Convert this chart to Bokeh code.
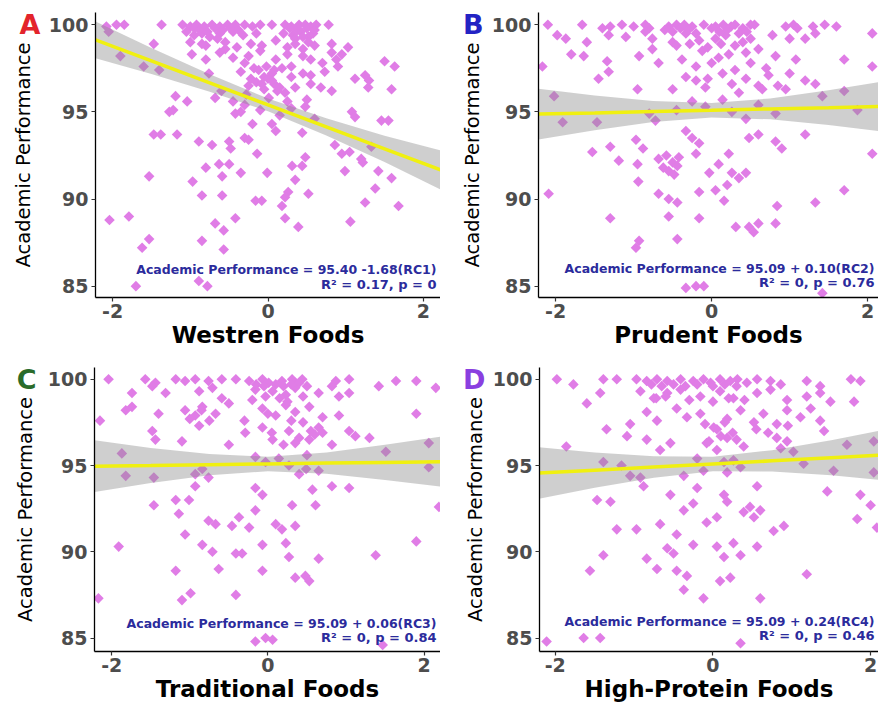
from bokeh.plotting import figure
from bokeh.models import Range1d, FixedTicker, Label, LinearAxis
from bokeh.layouts import row, column
from bokeh.embed import file_html
from bokeh.resources import INLINE

# ---------------- data ----------------
# Panel A: Westren Foods
a_x = [
    -2.08, -1.95, -1.85, -1.37, -1.10, -1.00, -0.92, -0.82, -0.72, -0.62, -0.52, -0.42, -0.30, -0.20, -0.10, 0.05, 0.22, 0.30, 0.40, 0.48, 0.55, 0.62, 0.78,
    -2.05, -1.05, -0.95, -0.85, -0.75, -0.62, -0.45, -0.32, -0.15, 0.20, 0.32, 0.42, 0.52, 0.58,
    -1.47, -1.00, -0.80, -0.55, -0.40, -0.22, -0.08, 0.10, 0.35, 0.45, 0.52, 0.82, 1.03,
    -1.90, -0.98, -0.80, -0.62, -0.45, -0.25, 0.10, 0.25, 0.45, 0.55, 0.82, 0.88, 0.95, 1.50, 1.63,
    -1.60, -1.40, -0.76, -0.35, -0.18, -0.05, 0.05, 0.30, 0.45, 0.55, 0.73, 1.12, 1.25, 1.30,
    -0.25, -0.15, -0.05, 0.08, 0.12, 0.35, 0.55, 0.68, 0.82, 1.29, 1.59, -0.28, 0.00,
    -1.19, -1.04, -0.68, -0.45, -0.30, 0.01, 0.25, 0.50, -0.60,
    -1.27, -1.22, -0.42, -0.35, -0.10, 0.30, 0.48, 1.08, 1.12, 0.15,
    -0.20, 0.05, 0.60, 1.46, 1.55, 0.10,
    -1.47, -1.38, -1.17, 0.44, -0.30,
    -0.89, -0.72, -0.50, -0.48, -0.25, 0.86, 1.05, 1.33,
    -0.14, 1.20, 0.48, 0.95, 1.22,
    -0.80, -0.63, -0.50, 0.31, 0.44,
    -1.53, -0.59, -0.35, -0.01, 0.99, 1.42, 1.59, -0.97, 0.35,
    0.26, 0.52, 1.38, -0.85, -0.59, -0.16, -0.08, 0.18, 1.25, 1.68, 0.22,
    -2.04, -1.79, -0.42, 0.22, 0.39, 1.06, -0.68, -0.57,
    -1.53, -1.62, -0.85, -0.57,
    -1.70, -0.89, -0.78,
    -0.95, -0.88, -0.78, -0.68, -0.58, -0.48, -0.38, -0.65, -0.55, -0.85,
    0.28, 0.38, 0.50, 0.60, 0.35, 0.45, 0.25, -0.12, -0.02, 0.08, 0.18,
    -0.22, -0.08, 0.05, 0.15, 0.22, -0.30, -0.10, 0.30, 0.70, 0.90, 0.60,
]
a_y = [
    99.9, 100.0, 100.0, 100.0, 100.0, 99.9, 100.0, 99.9, 100.0, 99.9, 100.0, 100.0, 100.0, 99.9, 100.0, 100.0, 100.0, 99.9, 100.0, 100.0, 99.9, 100.0, 100.0,
    99.6, 99.6, 99.4, 99.5, 99.3, 99.5, 99.6, 99.4, 99.5, 99.5, 99.4, 99.6, 99.3, 99.5,
    98.9, 99.0, 98.8, 99.0, 98.7, 98.9, 98.8, 99.1, 98.9, 98.6, 99.0, 98.9, 98.7,
    98.2, 98.3, 98.0, 98.4, 98.1, 98.2, 98.0, 98.3, 98.2, 98.0, 98.4, 98.0, 98.3, 97.9, 97.6,
    97.6, 97.4, 97.2, 97.3, 97.5, 97.0, 97.2, 97.0, 97.2, 97.1, 97.3, 96.9, 97.1, 96.8,
    96.5, 96.7, 96.3, 96.6, 96.2, 96.4, 96.6, 96.4, 96.2, 96.4, 96.3, 96.0, 96.9,
    95.9, 95.6, 95.8, 95.6, 95.4, 95.8, 95.6, 95.7, 96.2,
    95.0, 95.1, 94.9, 95.0, 95.1, 95.2, 95.3, 95.0, 94.7, 94.8,
    94.3, 94.3, 94.6, 94.5, 94.5, 93.9,
    93.7, 93.7, 93.7, 93.8, 93.5,
    93.3, 93.1, 93.3, 92.9, 93.4, 93.1, 92.7, 93.0,
    92.6, 92.3, 92.4, 92.6, 92.1,
    91.8, 92.0, 92.0, 91.9, 91.9,
    91.3, 91.3, 91.5, 91.5, 91.6, 91.6, 91.2, 91.0, 91.1,
    90.4, 90.3, 90.6, 90.2, 90.2, 89.9, 89.9, 89.6, 89.8, 89.6, 90.1,
    88.8, 89.0, 88.9, 88.9, 88.4, 88.7, 88.6, 88.2,
    87.7, 87.2, 87.6, 87.1,
    85.0, 85.3, 85.0,
    99.8, 99.7, 99.6, 99.8, 99.7, 99.8, 99.7, 99.2, 98.6, 98.9,
    99.8, 99.7, 99.8, 99.7, 99.2, 99.3, 98.7, 97.4, 97.6, 97.4, 97.5,
    96.9, 96.6, 96.8, 96.4, 96.1, 97.8, 98.5, 97.6, 97.8, 97.6, 98.8,
]

# Panel B: Prudent Foods
b_x = [
    -2.10, -1.66, -1.40, -1.30, -1.15, -1.00, -0.85, -0.80, -0.55, -0.45, -0.40, -0.35, -0.25, -0.10, 0.00, 0.05, 0.15, 0.25, 0.30, 0.40, 0.50, 0.55, 0.95, 1.05, 1.10, 1.30, 1.45, 1.60, 2.06,
    -1.98, -1.87, -1.60, -1.32, -1.10, -0.76, -0.50, -0.33, -0.16, 0.05, 0.18, 0.40, 0.78, 1.00, 1.20, 1.33,
    -2.17, -1.80, -1.64, -1.34, -0.93, -0.76, -0.68, -0.38, -0.12, 0.09, 0.22, 0.44, 0.82, 1.08, 1.70, 2.06,
    -1.45, -1.32, -0.95, -0.50, -0.33, -0.20, -0.08, 0.14, 0.26, 0.44, 0.60, 0.73, 0.95, 1.20, 1.33, 1.70,
    -2.02, -1.91, -1.47, -0.80, -0.72, -0.45, -0.25, -0.08, 0.14, 0.26, 0.44, 0.60, 0.82, 1.42, 1.87,
    -1.53, -1.30, -0.97, -0.88, -0.33, -0.25, -0.16, 0.48, 0.60, 0.82, 0.90, 1.20, 2.06,
    -1.19, -0.95, -0.68, -0.62, -0.58, -0.55, -0.50, -0.48, -0.44, -0.42, -0.20, -0.03, 0.09, 0.22, 0.26, 0.35, 0.44,
    -2.09, -0.94, -0.68, -0.55, -0.44, -0.16, 0.05, 0.16, 0.20, 0.84, 1.33, 1.70,
    -1.30, -0.55, -0.16, 0.31, 0.48, 0.54, 0.60, 0.82,
    -0.93, -0.97, -0.44,
    -0.33, -0.20, -0.10, 1.42,
    -0.60, -0.50, -0.30, -0.20, 0.10, 0.20, 0.35, 0.45, -0.45, -0.28, -0.05, 0.12, 0.30,
    0.50, 0.60, -0.20, 0.00, 0.30, 0.50, 0.70, 0.65, 0.85, 1.00, -0.85, -0.05, 0.35,
]
b_y = [
    100.0, 100.0, 99.8, 99.9, 100.0, 99.9, 100.0, 99.8, 99.9, 100.0, 99.8, 100.0, 99.9, 100.0, 99.8, 99.9, 100.0, 99.9, 100.0, 99.8, 100.0, 100.0, 99.9, 100.0, 99.8, 99.9, 100.0, 99.9, 99.5,
    99.4, 99.2, 99.0, 99.4, 99.3, 99.2, 99.0, 99.5, 99.1, 99.2, 99.4, 99.0, 99.4, 99.2, 99.2, 99.5,
    97.6, 98.3, 98.2, 97.9, 98.2, 98.6, 97.8, 98.0, 98.5, 98.1, 98.3, 98.4, 98.2, 98.0, 98.0, 97.6,
    96.9, 97.3, 96.3, 96.3, 97.0, 96.8, 96.4, 97.2, 96.6, 96.9, 96.5, 97.1, 96.3, 96.8, 96.6, 96.2,
    95.9, 94.4, 94.4, 94.9, 94.5, 95.1, 95.6, 95.3, 95.7, 95.0, 94.6, 95.4, 94.9, 95.9, 95.1,
    92.7, 93.0, 93.4, 92.9, 93.9, 93.5, 93.2, 93.5, 93.7, 93.3, 92.9, 93.7, 92.6,
    92.2, 92.0, 92.3, 91.8, 92.5, 91.6, 92.1, 91.4, 91.9, 92.4, 92.6, 91.5, 92.0, 92.6, 91.5, 91.2, 91.5,
    90.3, 91.0, 90.3, 90.0, 89.8, 90.4, 90.5, 89.9, 90.8, 89.6, 89.8, 90.5,
    88.9, 89.0, 88.9, 88.4, 88.4, 88.1, 88.6, 88.6,
    87.6, 87.2, 87.7,
    84.9, 85.0, 85.0, 84.6,
    99.7, 99.6, 99.7, 99.5, 99.6, 99.7, 99.5, 99.6, 98.8, 98.9, 98.7, 98.9, 98.8,
    99.2, 98.6, 97.6, 97.8, 97.4, 97.8, 97.5, 96.3, 96.5, 97.2, 99.6, 96.9, 96.1,
]

# Panel C: Traditional Foods
c_x = [
    -2.04, -1.57, -1.44, -1.18, -1.06, -0.93, -0.76, -0.59, -0.41, -0.24, -0.07, 0.01, 0.18, 0.31, 0.35, 0.44, 0.87, 1.04, 1.42, 1.64, 1.90, 2.15,
    -1.74, -1.48, -1.31, -0.88, -0.71, -0.59, -0.16, -0.03, 0.06, 0.23, 0.35, 0.65, 0.82, 0.91, 1.04,
    -2.15, -1.82, -1.74, -1.40, -1.06, -0.93, -0.84, -0.67, -0.50, -0.07, 0.10, 0.23, 0.35, 0.53, 0.70, 0.91, 1.90,
    -1.48, -1.44, -1.10, -0.88, -0.50, -0.29, -0.07, 0.06, 0.27, 0.40, 0.53, 0.65, 0.82, 1.04, 1.12, 1.30, 1.51, 2.06,
    -1.87, -1.82, -1.46, -0.93, -0.84, -0.76, -0.16, -0.03, 0.14, 0.27, 0.40, 0.49, 0.65, 2.06,
    -1.46, -1.18, -1.01, -0.93, -0.16, -0.07, 0.31, 0.57, 0.61, 0.82, 1.04, 2.19,
    -1.14, -1.06, -0.76, -0.67, -0.46, -0.37, -0.24, -0.16, 0.10, 0.18, 0.35,
    -1.91, -0.84, -0.71, -0.41, -0.33, -0.07, 0.23, 0.27, 0.65, 1.38, 1.90,
    -1.18, -0.63, -0.07, 0.35, 0.48, 0.53,
    -2.17, -1.10, -0.99, -0.41,
    -0.16, -0.03, 0.06, 1.47,
    -0.15, -0.05, 0.10, 0.20, 0.30, 0.40, 0.50, 0.15, 0.25, 0.45, 0.00, 0.30, 0.55,
    0.60, -0.30, -0.20, 0.05, 0.35, 0.45, 0.70, -0.85, -0.75, -1.00, 0.20, 0.50,
]
c_y = [
    100.0, 100.0, 99.8, 100.0, 99.9, 100.0, 99.9, 100.0, 100.0, 99.9, 100.0, 99.8, 99.9, 100.0, 99.8, 100.0, 99.9, 100.0, 99.6, 99.9, 99.9, 99.5,
    99.2, 99.6, 99.2, 99.3, 99.5, 98.9, 99.4, 99.0, 99.3, 99.1, 99.5, 99.2, 99.6, 99.0, 99.2,
    97.6, 98.2, 98.4, 98.0, 98.2, 97.9, 98.4, 98.0, 98.6, 98.3, 97.9, 98.5, 98.1, 98.4, 97.8, 97.9, 98.0,
    97.0, 96.5, 96.4, 97.3, 96.2, 96.9, 97.2, 96.5, 97.0, 96.6, 96.5, 97.2, 96.2, 97.0, 96.7, 96.6, 95.8, 96.3,
    95.7, 94.4, 94.3, 94.5, 94.8, 94.3, 95.5, 95.2, 95.4, 95.0, 94.5, 94.8, 94.7, 94.9,
    92.7, 93.0, 93.0, 93.8, 93.7, 93.3, 92.7, 93.6, 92.7, 93.8, 93.7, 92.6,
    92.2, 91.0, 91.8, 91.6, 91.5, 92.0, 91.4, 92.4, 91.6, 91.3, 91.5,
    90.3, 90.4, 90.0, 89.9, 89.9, 90.4, 90.5, 89.7, 89.6, 89.8, 90.6,
    88.9, 89.0, 88.9, 88.5, 88.6, 88.3,
    87.3, 87.2, 87.6, 87.5,
    84.8, 85.0, 84.9, 84.6,
    99.7, 99.6, 99.7, 99.6, 99.7, 99.8, 99.6, 98.9, 98.7, 99.0, 98.0, 97.6, 97.0,
    96.8, 97.6, 98.8, 96.9, 96.3, 97.5, 96.9, 98.2, 97.6, 97.7, 96.2, 95.6,
]

# Panel D: High-Protein Foods
d_x = [
    -1.98, -1.77, -1.39, -1.22, -0.97, -0.84, -0.71, -0.58, -0.41, -0.25, -0.12, -0.03, 0.09, 0.22, 0.31, 0.43, 0.56, 0.73, 0.86, 1.19, 1.36, 1.75, 1.87,
    -1.60, -1.43, -0.92, -0.75, -0.58, -0.41, -0.16, 0.09, 0.26, 0.56, 0.73, 0.94, 1.19, 1.36, 1.49, 1.79,
    -1.35, -1.05, -0.84, -0.71, -0.46, -0.33, -0.16, 0.01, 0.18, 0.35, 0.52, 0.64, 0.81, 0.94, 1.11, 1.24, 1.36, 1.41,
    -1.86, -1.09, -0.84, -0.67, -0.54, -0.08, 0.05, 0.18, 0.39, 0.81, 0.86, 0.94, 1.02, 1.70, 2.04,
    -1.39, -1.16, -1.05, -0.92, -0.37, -0.20, -0.12, 0.14, 0.18, 0.26, 0.35, 1.15, 1.53, 2.04,
    -1.47, -1.30, -0.88, -0.54, -0.20, 0.14, 0.18, 0.56, 0.47, 1.45, 1.87, 2.00, -0.25, -0.37,
    -1.22, -0.97, -0.67, -0.46, -0.08, 0.05, 0.39, 0.52, 0.60, 0.77, 0.90, 1.83, 2.08,
    -1.39, -0.84, -0.58, -0.50, -0.25, 0.05, 0.14, 0.26, 0.35, 0.56,
    -1.56, -0.71, -0.46, -0.33, 0.09, 0.22, 1.19,
    -0.37, -0.12, 0.60,
    -2.11, -1.64, -1.43, 0.35,
    -0.78, -0.65, -0.50, -0.35, -0.20, 0.00, 0.15, 0.30, -0.72, -0.60, -0.30, 0.00,
    0.20, 0.40, -0.10, 0.05, 0.15, 0.25, -0.05, 0.10, 0.30, 0.55, 0.70, 0.95,
]
d_y = [
    100.0, 99.7, 100.0, 100.0, 100.0, 99.9, 100.0, 99.9, 100.0, 99.9, 100.0, 99.8, 100.0, 99.9, 100.0, 99.8, 100.0, 99.9, 99.7, 99.9, 99.6, 100.0, 99.9,
    98.6, 99.2, 99.3, 98.9, 99.2, 99.4, 99.0, 99.3, 98.9, 99.2, 99.4, 98.8, 99.0, 99.2, 98.7, 98.7,
    97.1, 97.4, 98.1, 97.6, 98.3, 97.8, 98.0, 97.2, 97.7, 98.2, 97.5, 98.0, 97.4, 98.2, 97.8, 98.3, 97.6, 97.0,
    96.1, 96.7, 96.5, 95.9, 96.3, 96.3, 95.9, 96.6, 96.1, 96.6, 96.0, 96.4, 95.8, 96.2, 96.4,
    95.2, 95.0, 94.4, 94.3, 94.4, 95.4, 94.7, 95.2, 94.6, 95.3, 94.9, 95.1, 94.7, 94.6,
    93.0, 92.9, 93.8, 93.3, 93.7, 93.3, 92.9, 93.8, 92.6, 93.5, 93.3, 92.7, 92.8, 92.4,
    91.3, 91.3, 91.6, 91.0, 91.7, 92.0, 92.3, 92.0, 92.4, 91.2, 91.5, 91.9, 91.4,
    89.8, 89.6, 90.2, 89.9, 90.4, 90.3, 89.7, 90.5, 89.8, 90.3,
    88.9, 89.0, 88.9, 88.6, 88.3, 88.5, 88.7,
    87.8, 87.3, 87.3,
    84.8, 85.0, 85.0, 84.7,
    99.7, 99.6, 99.7, 99.6, 99.7, 99.6, 99.7, 99.6, 98.9, 99.0, 98.8, 98.7,
    98.9, 98.8, 97.4, 97.1, 97.5, 96.9, 96.4, 96.7, 96.5, 97.1, 96.9, 97.3,
]

# Regression lines and confidence bands (read at these x positions)
band_x = [-2.22, -1.5, -0.75, 0.0, 0.75, 1.5, 2.22]
a_fit = [99.13, 97.92, 96.66, 95.40, 94.14, 92.88, 91.67]
a_lo = [98.08, 97.17, 96.16, 95.04, 93.64, 92.13, 90.55]
a_hi = [100.18, 98.67, 97.16, 95.76, 94.64, 93.63, 92.79]
b_fit = [94.87, 94.94, 95.02, 95.09, 95.17, 95.24, 95.31]
b_lo = [93.42, 93.94, 94.42, 94.67, 94.57, 94.24, 93.86]
b_hi = [96.32, 95.94, 95.62, 95.51, 95.77, 96.24, 96.76]
c_fit = [94.96, 95.00, 95.05, 95.09, 95.14, 95.18, 95.22]
c_lo = [93.46, 93.98, 94.43, 94.67, 94.52, 94.16, 93.77]
c_hi = [96.46, 96.02, 95.67, 95.51, 95.76, 96.20, 96.67]
d_fit = [94.56, 94.73, 94.91, 95.09, 95.27, 95.45, 95.62]
d_lo = [93.06, 93.71, 94.29, 94.67, 94.65, 94.43, 94.12]
d_hi = [96.06, 95.75, 95.53, 95.51, 95.89, 96.47, 97.12]

x_labels = ["Westren Foods", "Prudent Foods", "Traditional Foods", "High-Protein Foods"]
y_label = "Academic Performance"
panel_letters = ["A", "B", "C", "D"]
equations = [
    "Academic Performance = 95.40 -1.68(RC1)",
    "Academic Performance = 95.09 + 0.10(RC2)",
    "Academic Performance = 95.09 + 0.06(RC3)",
    "Academic Performance = 95.09 + 0.24(RC4)",
]
stats = ["R² = 0.17, p = 0", "R² = 0, p = 0.76", "R² = 0, p = 0.84", "R² = 0, p = 0.46"]
x_ticks = [-2, 0, 2]
y_ticks = [85, 90, 95, 100]
letter_tick = [100]

# ---------------- styling ----------------
FONT = "DejaVu Sans"
POINT = "#e07de6"
LETTER_COLORS = ["#e3242b", "#2323c4", "#2a6b2a", "#8a3fe0"]
EQ_COLOR = "#2b2b9c"


def panel(xs, ys, fit, lo, hi, xr, yr, idx, w, h, bl, bt, bb, letter_standoff, ylab_standoff, eq_y):
    p = figure(width=w, height=h, x_range=Range1d(*xr), y_range=Range1d(*yr),
               output_backend="svg", toolbar_location=None,
               min_border_left=bl, min_border_right=0, min_border_top=bt, min_border_bottom=bb)
    p.outline_line_color = None
    p.xgrid.visible = False
    p.ygrid.visible = False
    p.background_fill_color = "white"
    p.border_fill_color = "white"

    p.scatter(xs, ys, marker="square", angle=0.785398, size=7.5,
              fill_color=POINT, line_color=None)
    p.varea(x=band_x, y1=lo, y2=hi, fill_color="#8c8c8c", fill_alpha=0.42)
    p.line(band_x, fit, line_color="#f0f010", line_width=3.5)

    p.xaxis.ticker = FixedTicker(ticks=x_ticks)
    p.xaxis.major_label_overrides = {t: str(t) for t in x_ticks}
    p.yaxis.ticker = FixedTicker(ticks=y_ticks)
    for ax in (p.xaxis[0], p.yaxis[0]):
        ax.axis_line_color = "black"
        ax.axis_line_width = 1.3
        ax.major_tick_line_color = "#333333"
        ax.major_tick_line_width = 1.2
        ax.major_tick_out = 4
        ax.major_tick_in = 0
        ax.minor_tick_line_color = None
        ax.major_label_text_font = FONT
        ax.major_label_text_font_style = "bold"
        ax.major_label_text_font_size = "19px"
        ax.major_label_text_color = "#4d4d4d"
    p.xaxis.major_label_standoff = 2
    p.yaxis.major_label_standoff = 3
    p.xaxis.axis_label = x_labels[idx]
    p.xaxis.axis_label_text_font = FONT
    p.xaxis.axis_label_text_font_style = "bold"
    p.xaxis.axis_label_text_font_size = "23px"
    p.xaxis.axis_label_text_color = "black"
    p.xaxis.axis_label_standoff = 1

    # outer left axis: carries the panel letter (at the 100 level) and the y title
    outer = LinearAxis(ticker=FixedTicker(ticks=letter_tick),
                       major_label_overrides={letter_tick[0]: panel_letters[idx]},
                       axis_line_color=None, major_tick_line_color=None,
                       minor_tick_line_color=None, major_tick_out=0, major_tick_in=0,
                       major_label_standoff=letter_standoff,
                       major_label_text_font=FONT, major_label_text_font_style="bold",
                       major_label_text_font_size="27px",
                       major_label_text_color=LETTER_COLORS[idx],
                       axis_label=y_label, axis_label_standoff=ylab_standoff,
                       axis_label_text_font=FONT, axis_label_text_font_style="normal",
                       axis_label_text_font_size="19.5px", axis_label_text_color="black")
    p.add_layout(outer, "left")

    p.add_layout(Label(x=xr[1], y=eq_y[0], x_offset=-4, text=equations[idx],
                       text_font=FONT, text_font_style="bold", text_font_size="12.5px",
                       text_color=EQ_COLOR, text_align="right", text_baseline="middle"))
    p.add_layout(Label(x=xr[1], y=eq_y[1], x_offset=-4, text=stats[idx],
                       text_font=FONT, text_font_style="bold", text_font_size="13px",
                       text_color=EQ_COLOR, text_align="right", text_baseline="middle"))
    return p


pA = panel(a_x, a_y, a_fit, a_lo, a_hi, (-2.22, 2.22), (84.35, 100.7), 0,
           440, 350, 95, 12, 53, 5, -18, (85.98, 85.11))
pB = panel(b_x, b_y, b_fit, b_lo, b_hi, (-2.22, 2.14), (84.35, 100.7), 1,
           438, 350, 98, 12, 53, 5, -24, (86.03, 85.23))
pC = panel(c_x, c_y, c_fit, c_lo, c_hi, (-2.22, 2.21), (84.22, 100.68), 2,
           440, 354, 94, 17, 52, 8, -23, (85.86, 85.05))
pD = panel(d_x, d_y, d_fit, d_lo, d_hi, (-2.2, 2.1), (84.22, 100.68), 3,
           438, 354, 99, 17, 52, 4, -27, (85.97, 85.17))

layout = column(row(pA, pB), row(pC, pD))
open("out.html", "w").write(file_html(layout, INLINE))
